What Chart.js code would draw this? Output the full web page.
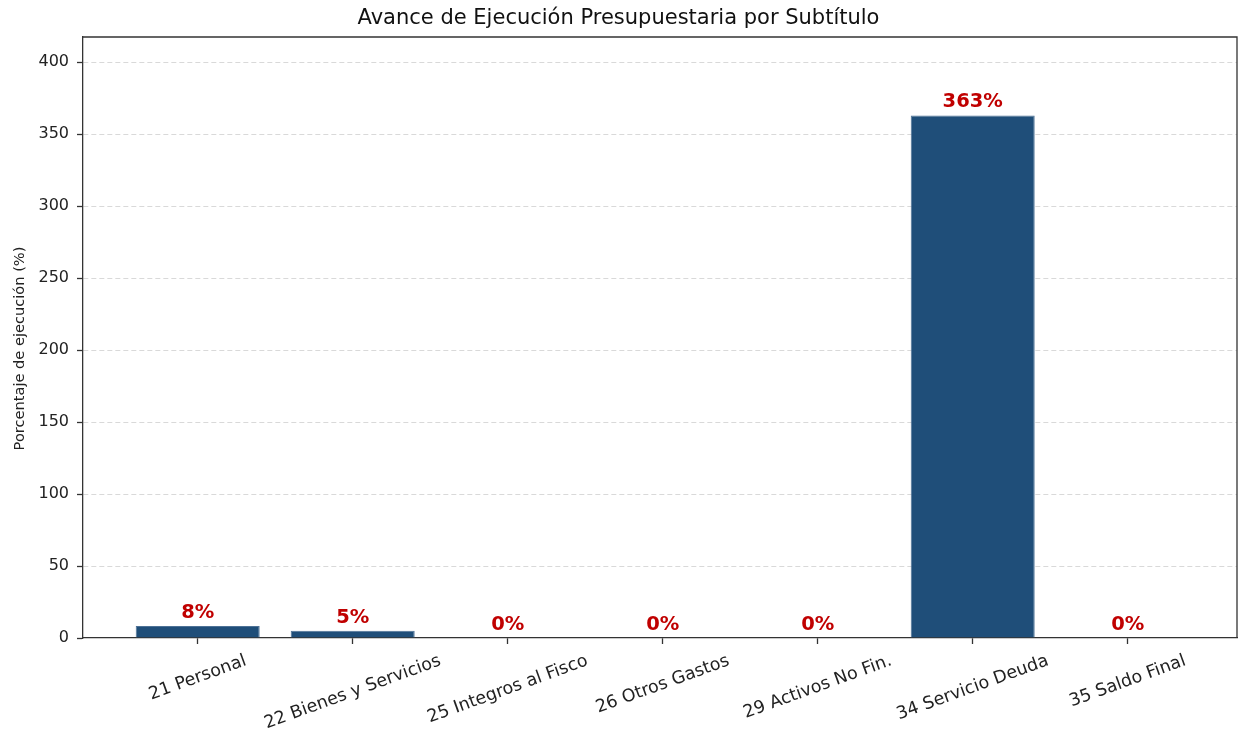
<!DOCTYPE html>
<html>
<head>
<meta charset="utf-8">
<script src="https://cdn.jsdelivr.net/npm/chart.js@4"></script>
<style>
  html, body { margin: 0; padding: 0; background: #fff; }
  #wrap { width: 1238px; height: 732px; }
</style>
</head>
<body>
<div id="wrap"><canvas id="avanceChart"></canvas></div>
<script>
const categories = [
  '21 Personal',
  '22 Bienes y Servicios',
  '25 Integros al Fisco',
  '26 Otros Gastos',
  '29 Activos No Fin.',
  '34 Servicio Deuda',
  '35 Saldo Final',
];
const ejecucion = [8.3, 5.1, 0, 0, 0, 363, 0];
const valueLabels = ['8%', '5%', '0%', '0%', '0%', '363%', '0%'];
const yTicks = [0, 50, 100, 150, 200, 250, 300, 350, 400];
const yTitle = 'Porcentaje de ejecución (%)';

const FONT = "'DejaVu Sans', sans-serif";
const barColor = '#1f4e79';
const labelColor = '#c00000';
const axisColor = '#333333';
const yMax = Math.max(...ejecucion) * 1.15;

// etiquetas rotadas, marco, titulo del eje y valores sobre las barras
const extras = {
  id: 'extras',
  afterDraw(chart) {
    const { ctx, chartArea } = chart;
    const xs = chart.scales.x;
    ctx.save();

    // marco superior y derecho
    ctx.strokeStyle = axisColor;
    ctx.lineWidth = 1.3;
    ctx.beginPath();
    ctx.moveTo(chartArea.left, chartArea.top);
    ctx.lineTo(chartArea.right, chartArea.top);
    ctx.lineTo(chartArea.right, chartArea.bottom);
    ctx.stroke();

    // titulo eje y
    ctx.save();
    ctx.font = '14.6px ' + FONT;
    ctx.fillStyle = '#222';
    ctx.textAlign = 'center';
    ctx.textBaseline = 'middle';
    ctx.translate(20, chartArea.top + chartArea.height / 2 + 11);
    ctx.rotate(-Math.PI / 2);
    ctx.fillText(yTitle, 0, 0);
    ctx.restore();

    // etiquetas eje x (20 grados, centradas)
    const ang = 20 * Math.PI / 180;
    ctx.font = '17.5px ' + FONT;
    ctx.fillStyle = '#222';
    ctx.textAlign = 'center';
    ctx.textBaseline = 'middle';
    categories.forEach((c, i) => {
      const x = xs.getPixelForValue(i);
      const w = ctx.measureText(c).width;
      const h = 20;
      const half = (w * Math.sin(ang) + h * Math.cos(ang)) / 2;
      const cy = chartArea.bottom + 13 + half;
      ctx.save();
      ctx.translate(x, cy);
      ctx.rotate(-ang);
      ctx.fillText(c, 0, 0);
      ctx.restore();
    });

    // valores
    const meta = chart.getDatasetMeta(0);
    ctx.font = 'bold 19.5px ' + FONT;
    ctx.fillStyle = labelColor;
    ctx.textBaseline = 'alphabetic';
    meta.data.forEach((bar, i) => {
      ctx.fillText(valueLabels[i], bar.x, bar.y - 8);
    });
    ctx.restore();
  }
};

new Chart(document.getElementById('avanceChart'), {
  type: 'bar',
  data: {
    datasets: [{
      data: ejecucion.map((v, i) => ({ x: i, y: v })),
      backgroundColor: barColor,
      borderColor: '#4d7196',
      borderWidth: 1,
      barPercentage: 0.8,
      categoryPercentage: 1.0,
    }],
  },
  options: {
    responsive: true,
    maintainAspectRatio: false,
    animation: false,
    layout: { padding: { left: 0, right: 1, top: 0, bottom: 0 } },
    plugins: {
      legend: { display: false },
      tooltip: { enabled: false },
      title: {
        display: true,
        text: 'Avance de Ejecución Presupuestaria por Subtítulo',
        color: '#111',
        font: { family: FONT, size: 21, weight: 'normal' },
        padding: { top: 6, bottom: 5.8 },
      },
    },
    scales: {
      x: {
        type: 'linear',
        offset: false,
        min: -0.74,
        max: 6.705,
        z: 1,
        afterBuildTicks: (s) => { s.ticks = categories.map((c, i) => ({ value: i })); },
        afterFit: (s) => { s.height = 94; },
        ticks: { display: false },
        grid: {
          offset: false,
          drawOnChartArea: false,
          drawTicks: true,
          tickLength: 6,
          tickColor: axisColor,
          tickWidth: 1.3,
        },
        border: { color: axisColor, width: 1.3 },
      },
      y: {
        min: 0,
        max: yMax,
        z: 1,
        afterBuildTicks: (s) => { s.ticks = yTicks.map(v => ({ value: v })); },
        afterFit: (s) => { s.width = 83; },
        ticks: {
          color: '#222',
          padding: 8,
          font: { family: FONT, size: 16 },
        },
        grid: {
          color: (c) => c.tick && c.tick.value === 0 ? 'rgba(0,0,0,0)' : 'rgba(170,170,170,0.45)',
          lineWidth: 1,
          tickLength: 6,
          tickColor: axisColor,
          tickWidth: 1.3,
          tickBorderDash: [],
        },
        border: { color: axisColor, width: 1.3, dash: [5, 3] },
      },
    },
  },
  plugins: [extras],
});
</script>
</body>
</html>
